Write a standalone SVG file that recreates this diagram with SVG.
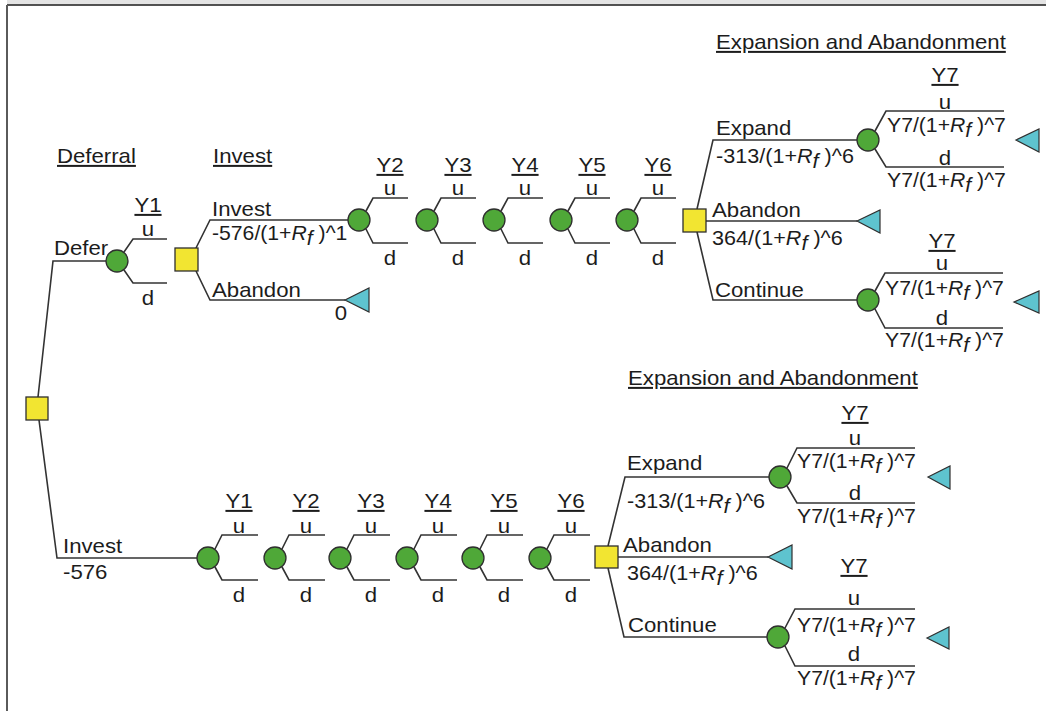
<svg xmlns="http://www.w3.org/2000/svg" width="1046" height="711" viewBox="0 0 1046 711">
  <style>
    .bg { fill: #ffffff; }
    .strip { fill: #e4e4e4; }
    .frame { stroke: #1a1a1a; stroke-width: 1.6; fill: none; }
    .side { stroke: #5a5a5a; stroke-width: 2; fill: none; }
    .edge { fill: none; stroke: #333333; stroke-width: 1.6; stroke-linejoin: miter; }
    .chance { fill: #4fa838; stroke: #2f2f2f; stroke-width: 1.3; }
    .decision { fill: #f2e531; stroke: #2f2f2f; stroke-width: 1.3; }
    .end { fill: #5ec3cf; stroke: #2f2f2f; stroke-width: 1.2; }
    text { font-family: "Liberation Sans", Arial, sans-serif; font-size: 20px; fill: #1c1c1c; }
    .mid { text-anchor: middle; }
    .ul { text-decoration: underline; }
    .it { font-style: italic; }
  </style>

  <rect class="bg" x="0" y="0" width="1046" height="711"/>
  <rect class="strip" x="7" y="0" width="1039" height="4.5"/>
  <line class="frame" x1="7" y1="5" x2="1046" y2="5"/>
  <line class="side" x1="7" y1="5" x2="7" y2="711"/>

  <!-- branch lines -->
  <g id="connectors">
    <!-- root decision -->
    <polyline class="edge" points="38,397 53,261 106,261"/>
    <polyline class="edge" points="39,420 57,558 197,558"/>
    <!-- deferral chance node Y1 -->
    <path class="edge" d="M124,252 L133,239 H167 M124,270 L133,283 H167"/>
    <!-- deferred invest decision -->
    <polyline class="edge" points="196,248 210,220 348,220"/>
    <polyline class="edge" points="196,271 210,300 345,300"/>
    <!-- upper chain Y2..Y6 -->
    <path class="edge" d="M366,211 L373,198 H408 M366,229 L373,243 H408"/>
    <path class="edge" d="M434,211 L441,198 H476 M434,229 L441,243 H476"/>
    <path class="edge" d="M501,211 L508,198 H543 M501,229 L508,243 H543"/>
    <path class="edge" d="M568,211 L575,198 H610 M568,229 L575,243 H610"/>
    <path class="edge" d="M634,211 L641,198 H676 M634,229 L641,243 H676"/>
    <!-- upper expansion / abandonment decision -->
    <polyline class="edge" points="697,209 713,140 857,140"/>
    <polyline class="edge" points="706,221 857,221"/>
    <polyline class="edge" points="697,232 713,300 857,300"/>
    <path class="edge" d="M875,131 L886,111 H1004 M875,149 L886,167 H1004"/>
    <path class="edge" d="M875,291 L885,273 H1003 M875,309 L885,328 H1003"/>
    <!-- lower chain Y1..Y6 -->
    <path class="edge" d="M215,549 L222,535 H258 M215,567 L222,580 H258"/>
    <path class="edge" d="M282,549 L289,535 H325 M282,567 L289,580 H325"/>
    <path class="edge" d="M347,549 L354,535 H390 M347,567 L354,580 H390"/>
    <path class="edge" d="M414,549 L421,535 H457 M414,567 L421,580 H457"/>
    <path class="edge" d="M480,549 L487,535 H523 M480,567 L487,580 H523"/>
    <path class="edge" d="M547,549 L554,535 H590 M547,567 L554,580 H590"/>
    <!-- lower expansion / abandonment decision -->
    <polyline class="edge" points="608,546 625,477 769,477"/>
    <polyline class="edge" points="618,557 768,557"/>
    <polyline class="edge" points="608,568 624,637 767,637"/>
    <path class="edge" d="M787,468 L797,448 H915 M787,486 L797,503 H915"/>
    <path class="edge" d="M785,628 L795,609 H915 M785,646 L795,666 H915"/>
  </g>

  <!-- decision nodes -->
  <g id="decision-root"><rect class="decision" x="26" y="397" width="22" height="23"/></g>
  <g id="decision-deferred"><rect class="decision" x="175" y="248" width="23" height="23"/></g>
  <g id="decision-upper-y6"><rect class="decision" x="683" y="209" width="23" height="23"/></g>
  <g id="decision-lower-y6"><rect class="decision" x="595" y="546" width="23" height="22"/></g>

  <!-- chance nodes -->
  <g id="chance-defer-y1"><circle class="chance" cx="117" cy="261" r="11"/></g>
  <g id="chance-upper-y2"><circle class="chance" cx="359" cy="220" r="11"/></g>
  <g id="chance-upper-y3"><circle class="chance" cx="427" cy="220" r="11"/></g>
  <g id="chance-upper-y4"><circle class="chance" cx="494" cy="220" r="11"/></g>
  <g id="chance-upper-y5"><circle class="chance" cx="561" cy="220" r="11"/></g>
  <g id="chance-upper-y6"><circle class="chance" cx="627" cy="220" r="11"/></g>
  <g id="chance-upper-expand-y7"><circle class="chance" cx="868" cy="140" r="11"/></g>
  <g id="chance-upper-continue-y7"><circle class="chance" cx="868" cy="300" r="11"/></g>
  <g id="chance-lower-y1"><circle class="chance" cx="208" cy="558" r="11"/></g>
  <g id="chance-lower-y2"><circle class="chance" cx="275" cy="558" r="11"/></g>
  <g id="chance-lower-y3"><circle class="chance" cx="340" cy="558" r="11"/></g>
  <g id="chance-lower-y4"><circle class="chance" cx="407" cy="558" r="11"/></g>
  <g id="chance-lower-y5"><circle class="chance" cx="473" cy="558" r="11"/></g>
  <g id="chance-lower-y6"><circle class="chance" cx="540" cy="558" r="11"/></g>
  <g id="chance-lower-expand-y7"><circle class="chance" cx="780" cy="477" r="11"/></g>
  <g id="chance-lower-continue-y7"><circle class="chance" cx="778" cy="637" r="11"/></g>

  <!-- terminal nodes -->
  <g id="end-deferred-abandon"><polygon class="end" points="345,300 369,288 369,312"/></g>
  <g id="end-upper-expand"><polygon class="end" points="1016,140 1039,129 1039,152"/></g>
  <g id="end-upper-abandon"><polygon class="end" points="857,221 880,210 880,233"/></g>
  <g id="end-upper-continue"><polygon class="end" points="1014,302 1039,291 1039,313"/></g>
  <g id="end-lower-expand"><polygon class="end" points="928,477 950,466 950,489"/></g>
  <g id="end-lower-abandon"><polygon class="end" points="768,557 792,545 792,569"/></g>
  <g id="end-lower-continue"><polygon class="end" points="927,638 949,627 949,649"/></g>

  <!-- labels -->
  <g id="labels">
    <text class="ul" transform="translate(57 163) scale(1.11 1)">Deferral</text>
    <text class="ul" transform="translate(213 163) scale(1.11 1)">Invest</text>
    <text transform="translate(54 255) scale(1.11 1)">Defer</text>
    <text class="mid ul" transform="translate(148 212) scale(1.11 1)">Y1</text>
    <text class="mid" transform="translate(148 236) scale(1.11 1)">u</text>
    <text class="mid" transform="translate(148 305) scale(1.11 1)">d</text>
    <text transform="translate(212 216) scale(1.11 1)">Invest</text>
    <text transform="translate(212 240) scale(1.06 1)">-576/(1+<tspan class="it">R</tspan><tspan class="it" dy="5">f</tspan><tspan dy="-5"> )^1</tspan></text>
    <text transform="translate(212 297) scale(1.11 1)">Abandon</text>
    <text class="mid" transform="translate(341 320) scale(1.11 1)">0</text>

    <text class="mid ul" transform="translate(390 172) scale(1.11 1)">Y2</text>
    <text class="mid" transform="translate(390 195) scale(1.11 1)">u</text>
    <text class="mid" transform="translate(390 265) scale(1.11 1)">d</text>
    <text class="mid ul" transform="translate(458 172) scale(1.11 1)">Y3</text>
    <text class="mid" transform="translate(458 195) scale(1.11 1)">u</text>
    <text class="mid" transform="translate(458 265) scale(1.11 1)">d</text>
    <text class="mid ul" transform="translate(525 172) scale(1.11 1)">Y4</text>
    <text class="mid" transform="translate(525 195) scale(1.11 1)">u</text>
    <text class="mid" transform="translate(525 265) scale(1.11 1)">d</text>
    <text class="mid ul" transform="translate(592 172) scale(1.11 1)">Y5</text>
    <text class="mid" transform="translate(592 195) scale(1.11 1)">u</text>
    <text class="mid" transform="translate(592 265) scale(1.11 1)">d</text>
    <text class="mid ul" transform="translate(658 172) scale(1.11 1)">Y6</text>
    <text class="mid" transform="translate(658 195) scale(1.11 1)">u</text>
    <text class="mid" transform="translate(658 265) scale(1.11 1)">d</text>

    <text class="ul" transform="translate(716 49) scale(1.11 1)">Expansion and Abandonment</text>
    <text transform="translate(716 135) scale(1.11 1)">Expand</text>
    <text transform="translate(716 163) scale(1.08 1)">-313/(1+<tspan class="it">R</tspan><tspan class="it" dy="5">f</tspan><tspan dy="-5"> )^6</tspan></text>
    <text transform="translate(712 217) scale(1.11 1)">Abandon</text>
    <text transform="translate(712 245) scale(1.08 1)">364/(1+<tspan class="it">R</tspan><tspan class="it" dy="5">f</tspan><tspan dy="-5"> )^6</tspan></text>
    <text transform="translate(715 297) scale(1.11 1)">Continue</text>

    <text class="mid ul" transform="translate(945 82) scale(1.11 1)">Y7</text>
    <text class="mid" transform="translate(945 109) scale(1.11 1)">u</text>
    <text transform="translate(887 132) scale(1.06 1)">Y7/(1+<tspan class="it">R</tspan><tspan class="it" dy="5">f</tspan><tspan dy="-5"> )^7</tspan></text>
    <text class="mid" transform="translate(945 165) scale(1.11 1)">d</text>
    <text transform="translate(887 187) scale(1.06 1)">Y7/(1+<tspan class="it">R</tspan><tspan class="it" dy="5">f</tspan><tspan dy="-5"> )^7</tspan></text>

    <text class="mid ul" transform="translate(942 248) scale(1.11 1)">Y7</text>
    <text class="mid" transform="translate(942 270) scale(1.11 1)">u</text>
    <text transform="translate(885 295) scale(1.06 1)">Y7/(1+<tspan class="it">R</tspan><tspan class="it" dy="5">f</tspan><tspan dy="-5"> )^7</tspan></text>
    <text class="mid" transform="translate(942 325) scale(1.11 1)">d</text>
    <text transform="translate(885 347) scale(1.06 1)">Y7/(1+<tspan class="it">R</tspan><tspan class="it" dy="5">f</tspan><tspan dy="-5"> )^7</tspan></text>

    <text transform="translate(63 553) scale(1.11 1)">Invest</text>
    <text transform="translate(63 579) scale(1.11 1)">-576</text>

    <text class="mid ul" transform="translate(239 508) scale(1.11 1)">Y1</text>
    <text class="mid" transform="translate(239 533) scale(1.11 1)">u</text>
    <text class="mid" transform="translate(239 602) scale(1.11 1)">d</text>
    <text class="mid ul" transform="translate(306 508) scale(1.11 1)">Y2</text>
    <text class="mid" transform="translate(306 533) scale(1.11 1)">u</text>
    <text class="mid" transform="translate(306 602) scale(1.11 1)">d</text>
    <text class="mid ul" transform="translate(371 508) scale(1.11 1)">Y3</text>
    <text class="mid" transform="translate(371 533) scale(1.11 1)">u</text>
    <text class="mid" transform="translate(371 602) scale(1.11 1)">d</text>
    <text class="mid ul" transform="translate(438 508) scale(1.11 1)">Y4</text>
    <text class="mid" transform="translate(438 533) scale(1.11 1)">u</text>
    <text class="mid" transform="translate(438 602) scale(1.11 1)">d</text>
    <text class="mid ul" transform="translate(504 508) scale(1.11 1)">Y5</text>
    <text class="mid" transform="translate(504 533) scale(1.11 1)">u</text>
    <text class="mid" transform="translate(504 602) scale(1.11 1)">d</text>
    <text class="mid ul" transform="translate(571 508) scale(1.11 1)">Y6</text>
    <text class="mid" transform="translate(571 533) scale(1.11 1)">u</text>
    <text class="mid" transform="translate(571 602) scale(1.11 1)">d</text>

    <text class="ul" transform="translate(628 385) scale(1.11 1)">Expansion and Abandonment</text>
    <text transform="translate(627 470) scale(1.11 1)">Expand</text>
    <text transform="translate(627 508) scale(1.08 1)">-313/(1+<tspan class="it">R</tspan><tspan class="it" dy="5">f</tspan><tspan dy="-5"> )^6</tspan></text>
    <text transform="translate(623 552) scale(1.11 1)">Abandon</text>
    <text transform="translate(627 580) scale(1.08 1)">364/(1+<tspan class="it">R</tspan><tspan class="it" dy="5">f</tspan><tspan dy="-5"> )^6</tspan></text>
    <text transform="translate(628 632) scale(1.11 1)">Continue</text>

    <text class="mid ul" transform="translate(855 420) scale(1.11 1)">Y7</text>
    <text class="mid" transform="translate(855 445) scale(1.11 1)">u</text>
    <text transform="translate(797 468) scale(1.06 1)">Y7/(1+<tspan class="it">R</tspan><tspan class="it" dy="5">f</tspan><tspan dy="-5"> )^7</tspan></text>
    <text class="mid" transform="translate(855 500) scale(1.11 1)">d</text>
    <text transform="translate(797 523) scale(1.06 1)">Y7/(1+<tspan class="it">R</tspan><tspan class="it" dy="5">f</tspan><tspan dy="-5"> )^7</tspan></text>

    <text class="mid ul" transform="translate(854 573) scale(1.11 1)">Y7</text>
    <text class="mid" transform="translate(854 605) scale(1.11 1)">u</text>
    <text transform="translate(797 632) scale(1.06 1)">Y7/(1+<tspan class="it">R</tspan><tspan class="it" dy="5">f</tspan><tspan dy="-5"> )^7</tspan></text>
    <text class="mid" transform="translate(854 661) scale(1.11 1)">d</text>
    <text transform="translate(797 685) scale(1.06 1)">Y7/(1+<tspan class="it">R</tspan><tspan class="it" dy="5">f</tspan><tspan dy="-5"> )^7</tspan></text>
  </g>
</svg>
